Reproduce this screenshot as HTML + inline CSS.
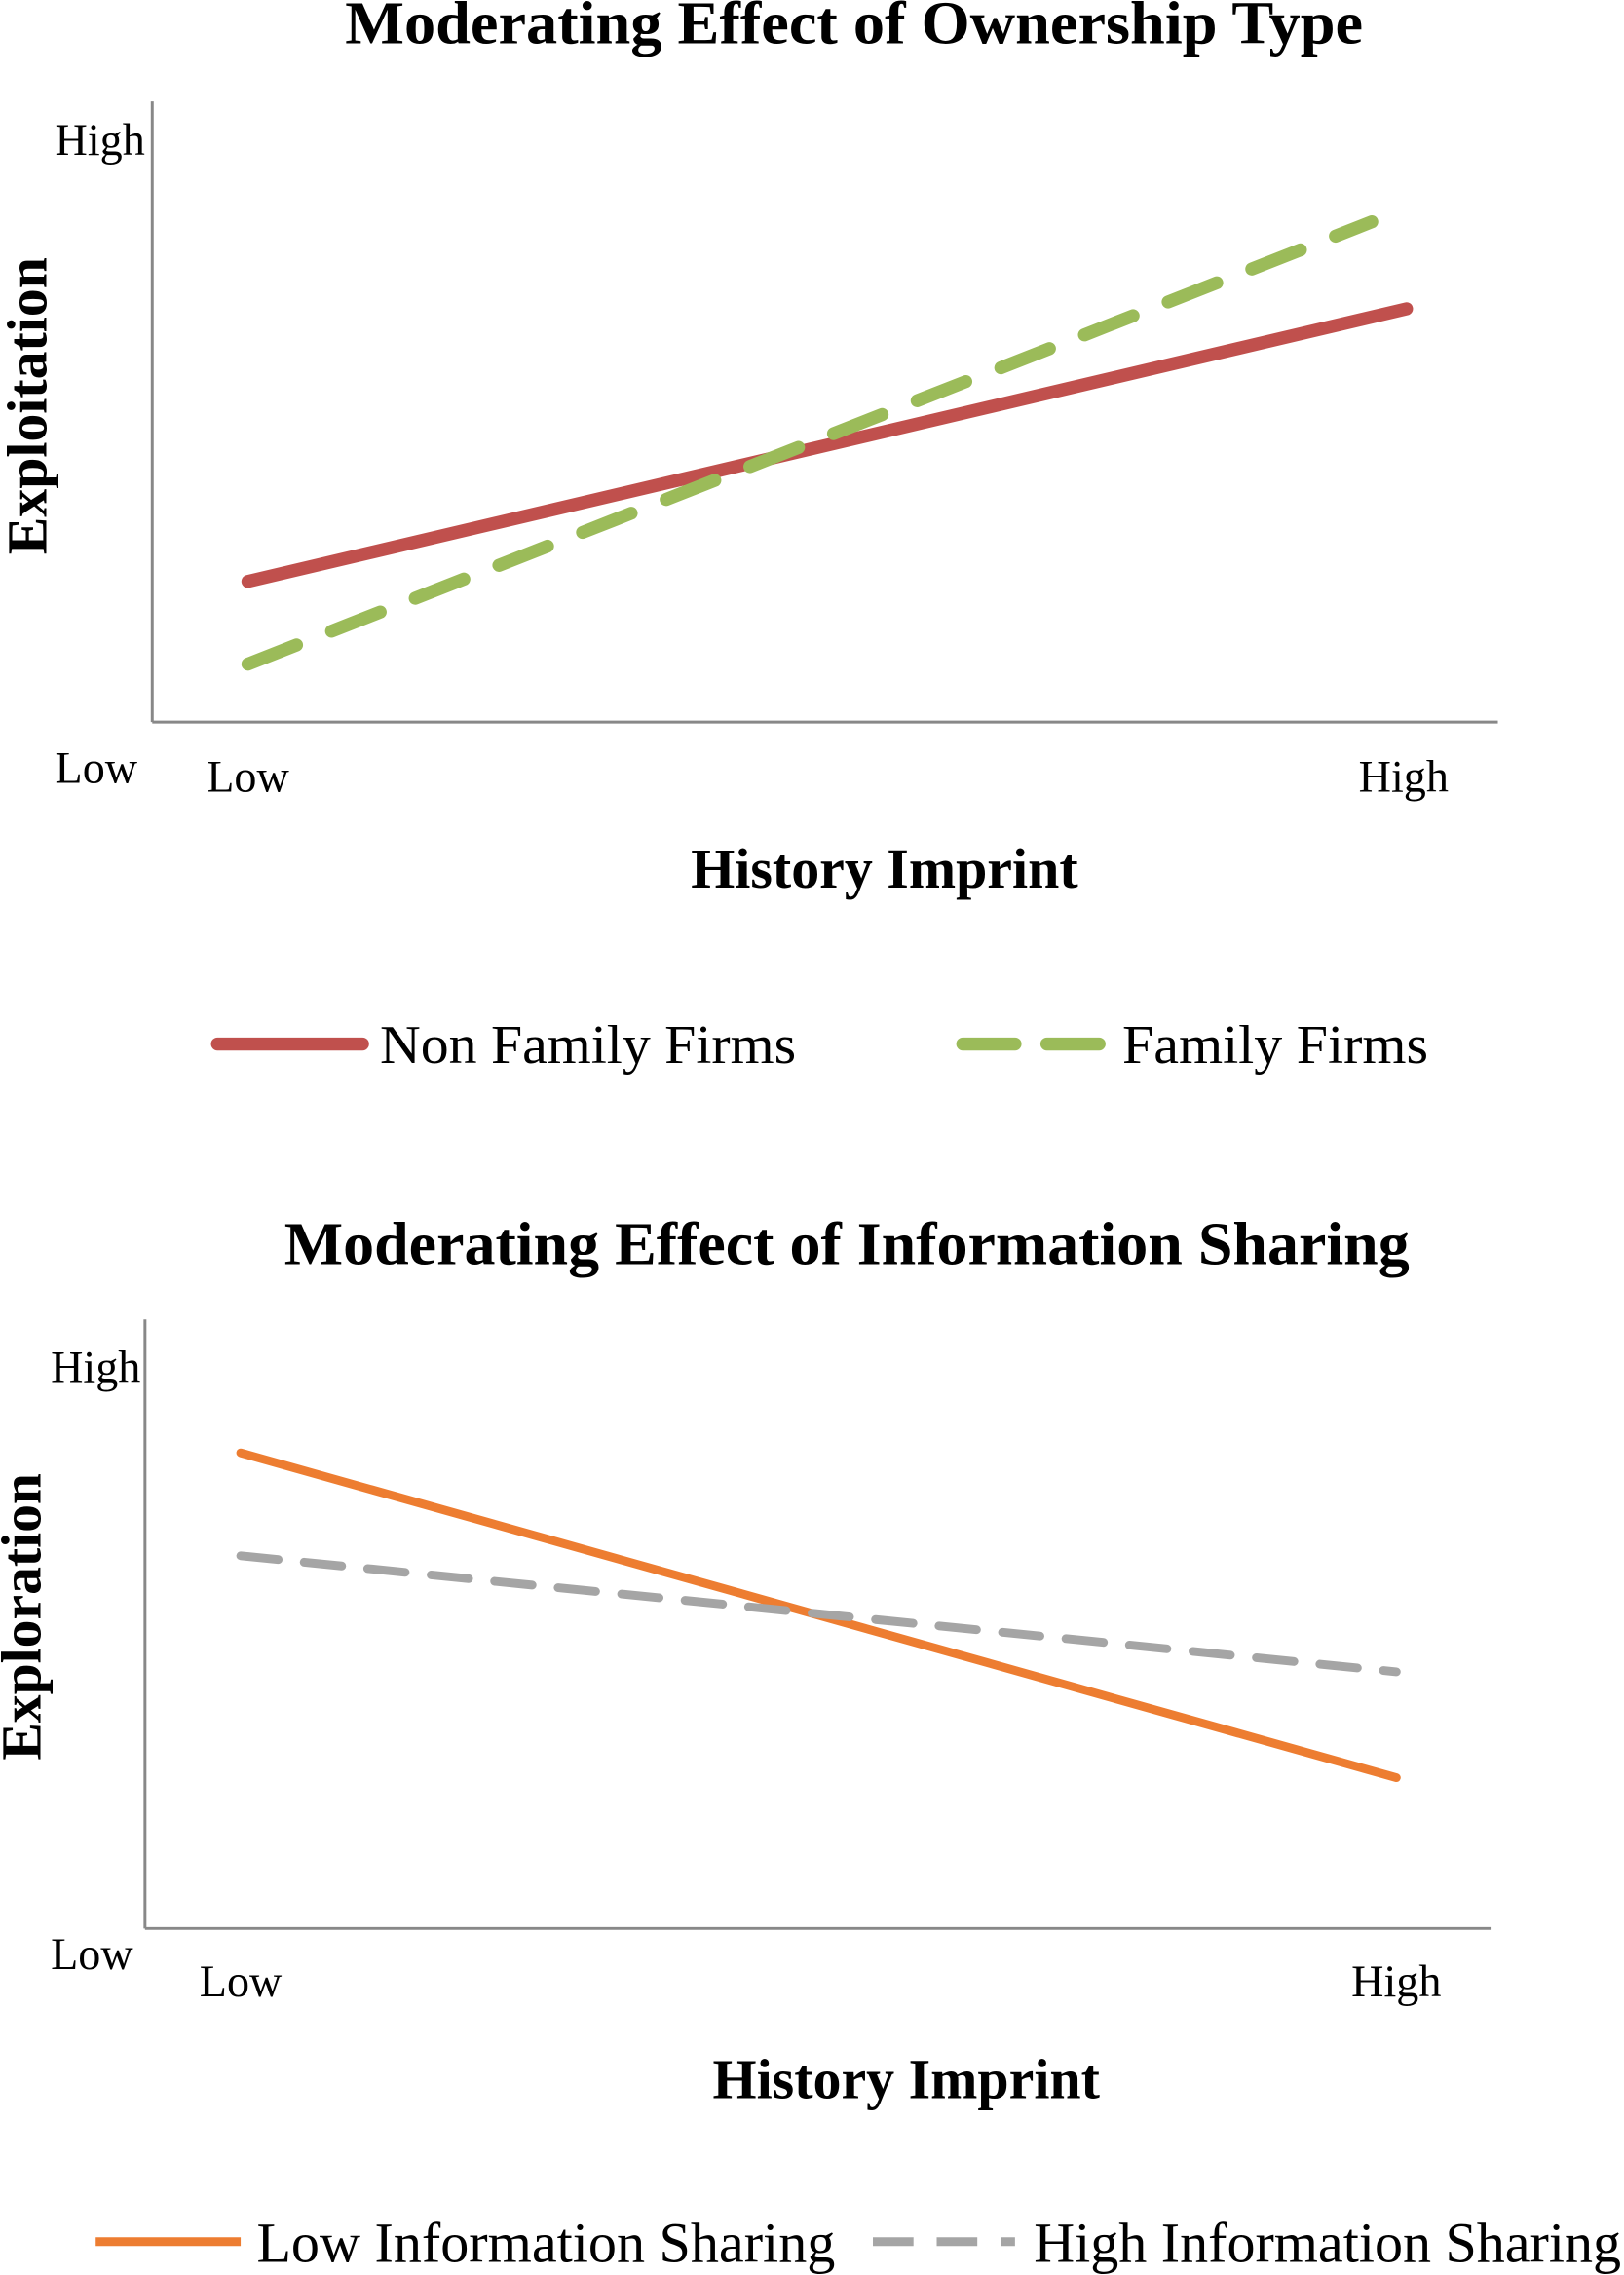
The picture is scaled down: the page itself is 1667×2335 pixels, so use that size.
<!DOCTYPE html>
<html><head><meta charset="utf-8"><style>
html,body{margin:0;padding:0;background:#fff;}
svg{display:block;}
text{font-family:"Liberation Serif",serif;fill:#000;}
</style></head><body>
<svg id="chart" width="1667" height="2335" viewBox="0 0 1120 1569" preserveAspectRatio="none" xmlns="http://www.w3.org/2000/svg">
<g>
<text x="589" y="30" font-size="42" font-weight="bold" text-anchor="middle" textLength="702" lengthAdjust="spacingAndGlyphs">Moderating Effect of Ownership Type</text>
<line x1="105" y1="70" x2="105" y2="498" stroke="#888" stroke-width="2"/>
<line x1="105" y1="498" x2="1033" y2="498" stroke="#888" stroke-width="2"/>
<text x="38" y="107" font-size="31">High</text>
<text x="38" y="540" font-size="31">Low</text>
<text x="171" y="546" font-size="31" text-anchor="middle">Low</text>
<text x="968" y="546" font-size="31" text-anchor="middle">High</text>
<text x="610" y="612" font-size="39" font-weight="bold" text-anchor="middle" textLength="267" lengthAdjust="spacingAndGlyphs">History Imprint</text>
<text transform="translate(32,280) rotate(-90)" font-size="39" font-weight="bold" text-anchor="middle" textLength="205" lengthAdjust="spacingAndGlyphs">Exploitation</text>
<g id="c1marks"></g>
<line x1="150" y1="720" x2="250" y2="720" stroke="#C0504D" stroke-width="9" stroke-linecap="round"/>
<text x="262" y="733" font-size="38" textLength="287" lengthAdjust="spacingAndGlyphs">Non Family Firms</text>
<line x1="664" y1="720" x2="758" y2="720" stroke="#9BBB59" stroke-width="9" stroke-dasharray="36,22" stroke-linecap="round"/>
<text x="774" y="733" font-size="38" textLength="211" lengthAdjust="spacingAndGlyphs">Family Firms</text>
</g>
<g>
<text x="584" y="872" font-size="42" font-weight="bold" text-anchor="middle" textLength="776" lengthAdjust="spacingAndGlyphs">Moderating Effect of Information Sharing</text>
<line x1="100" y1="910" x2="100" y2="1330" stroke="#888" stroke-width="2"/>
<line x1="100" y1="1330" x2="1028" y2="1330" stroke="#888" stroke-width="2"/>
<text x="35" y="953" font-size="31">High</text>
<text x="35" y="1358" font-size="31">Low</text>
<text x="166" y="1377" font-size="31" text-anchor="middle">Low</text>
<text x="963" y="1377" font-size="31" text-anchor="middle">High</text>
<text x="625" y="1447" font-size="39" font-weight="bold" text-anchor="middle" textLength="267" lengthAdjust="spacingAndGlyphs">History Imprint</text>
<text transform="translate(28,1115) rotate(-90)" font-size="39" font-weight="bold" text-anchor="middle" textLength="198" lengthAdjust="spacingAndGlyphs">Exploration</text>
<g id="c2marks"></g>
<line x1="66" y1="1546" x2="166" y2="1546" stroke="#ED7D31" stroke-width="6"/>
<text x="177" y="1560" font-size="39" textLength="399" lengthAdjust="spacingAndGlyphs">Low Information Sharing</text>
<line x1="602" y1="1546" x2="700" y2="1546" stroke="#A5A5A5" stroke-width="6" stroke-dasharray="28,16"/>
<text x="713" y="1560" font-size="39" textLength="405" lengthAdjust="spacingAndGlyphs">High Information Sharing</text>
</g>
</svg>
<script>
const c1X = [0, 1];
const c1NonFamily = [0.2425, 0.7125];
const c1FamilyX = [0, 0.97];
const c1Family = [0.1, 0.8625];
const c2X = [0, 1];
const c2LowSharing = [0.82, 0.26];
const c2HighSharing = [0.6425, 0.4425];

const NS = "http://www.w3.org/2000/svg";
function sx1(v){return 171 + v*(970-171);}
function sy1(v){return 498 - v*400;}
function sx2(v){return 166 + v*(963-166);}
function sy2(v){return 1330 - v*400;}
function drawLine(parent, xs, ys, fx, fy, color, w, dash, name){
  const el = document.createElementNS(NS, "polyline");
  
  
  el.setAttribute("points", xs.map((x,i)=>fx(x)+","+fy(ys[i])).join(" "));
  el.setAttribute("fill","none");
  el.setAttribute("stroke",color);
  el.setAttribute("stroke-width",w);
  if(dash){el.setAttribute("stroke-dasharray",dash);}
  el.setAttribute("stroke-linecap","round");
  parent.appendChild(el);
}
const g1 = document.getElementById("c1marks");
drawLine(g1, c1X, c1NonFamily, sx1, sy1, "#C0504D", 9, null, "non-family-firms-line");
drawLine(g1, c1FamilyX, c1Family, sx1, sy1, "#9BBB59", 9, "36,26", "family-firms-line");
const g2 = document.getElementById("c2marks");
drawLine(g2, c2X, c2LowSharing, sx2, sy2, "#ED7D31", 6, null, "low-information-sharing-line");
drawLine(g2, c2X, c2HighSharing, sx2, sy2, "#A5A5A5", 6, "26,18", "high-information-sharing-line");
</script>
</body></html>
